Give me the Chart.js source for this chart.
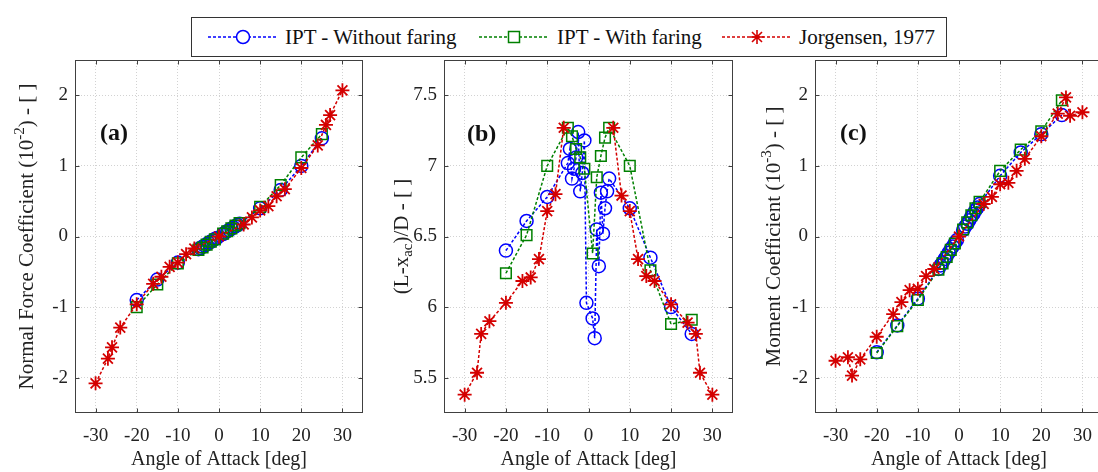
<!DOCTYPE html>
<html lang="en">
<head>
<meta charset="UTF-8">
<title>IPT vs Jorgensen</title>
<style>
  html, body { margin: 0; padding: 0; background: #fff; overflow: hidden; }
  body { width: 1098px; height: 472px; position: relative; font-family: "Liberation Serif", "Times New Roman", serif; }
  canvas { position: absolute; top: 0; }
  #legend { position: absolute; left: 191px; top: 17px; width: 754px; height: 38px; border: 1px solid #333; background: #fff; z-index: 2; }
  #legend svg { position: absolute; top: 0; }
  #legend span { position: absolute; top: 0; line-height: 38px; font-size: 21px; color: #111; white-space: nowrap; }
</style>
</head>
<body>
<div id="legend">
  <svg style="left:15px" width="72" height="38">
    <line x1="1" y1="19" x2="71" y2="19" stroke="#0000ff" stroke-width="1.5" stroke-dasharray="3,2"/>
    <circle cx="36" cy="19" r="6.5" fill="#fff" stroke="#0000ff" stroke-width="1.5"/>
  </svg>
  <span style="left:93px">IPT - Without faring</span>
  <svg style="left:286px" width="72" height="38">
    <line x1="1" y1="19" x2="71" y2="19" stroke="#008000" stroke-width="1.5" stroke-dasharray="3,2"/>
    <rect x="30.5" y="13.5" width="11" height="11" fill="#fff" stroke="#008000" stroke-width="1.5"/>
  </svg>
  <span style="left:365px">IPT - With faring</span>
  <svg style="left:529px" width="72" height="38">
    <line x1="1" y1="19" x2="71" y2="19" stroke="#d40000" stroke-width="1.5" stroke-dasharray="3,2"/>
    <path d="M36 12 V26 M29 19 H43 M31 14 L41 24 M41 14 L31 24" stroke="#d40000" stroke-width="1.6"/>
  </svg>
  <span style="left:607px">Jorgensen, 1977</span>
</div>

<canvas id="chartA" width="372" height="472" style="left:0px"></canvas>
<canvas id="chartB" width="370" height="472" style="left:372px"></canvas>
<canvas id="chartC" width="370" height="472" style="left:742px"></canvas>

<script src="https://cdn.jsdelivr.net/npm/chart.js"></script>
<script>
// tick labels
const xTickValues = [-30, -20, -10, 0, 10, 20, 30];
const normalTicks = [-2, -1, 0, 1, 2];
const ratioTicks = [5.5, 6, 6.5, 7, 7.5];
const momentTicks = [-2, -1, 0, 1, 2];

// IPT - Without faring
const angleNoFaring = [-20, -15, -10, -5, -4.5, -4, -3.5, -3, -2.5, -2, -1.5, -1, -0.5, 1, 1.5, 2, 2.5, 3, 3.5, 4, 4.5, 5, 10, 15, 20, 25];
const normalNoFaring = [-0.90, -0.61, -0.37, -0.18, -0.165, -0.145, -0.13, -0.11, -0.09, -0.075, -0.055, -0.035, -0.02, 0.035, 0.055, 0.075, 0.09, 0.11, 0.13, 0.145, 0.165, 0.18, 0.40, 0.66, 1.00, 1.39];
const ratioNoFaring = [6.40, 6.61, 6.78, 7.02, 7.12, 6.91, 6.98, 7.06, 7.24, 6.82, 6.95, 7.18, 6.03, 5.92, 5.78, 6.55, 6.29, 6.81, 6.52, 6.70, 6.82, 6.91, 6.70, 6.35, 6.00, 5.81];
const momentNoFaring = [-1.64, -1.26, -0.88, -0.46, -0.41, -0.37, -0.32, -0.28, -0.23, -0.18, -0.14, -0.09, -0.05, 0.09, 0.14, 0.18, 0.23, 0.28, 0.32, 0.37, 0.41, 0.46, 0.86, 1.19, 1.45, 1.72];

// IPT - With faring
const angleFaring = [-20, -15, -10, -5, -4, -3, -2, -1, 1, 2, 3, 4, 5, 10, 15, 20, 25];
const normalFaring = [-1.00, -0.68, -0.38, -0.19, -0.155, -0.115, -0.075, -0.04, 0.04, 0.075, 0.115, 0.155, 0.19, 0.42, 0.73, 1.12, 1.45];
const ratioFaring = [6.24, 6.51, 7.00, 7.27, 7.21, 7.12, 7.06, 6.98, 6.38, 6.92, 7.07, 7.20, 7.27, 7.00, 6.26, 5.88, 5.91];
const momentFaring = [-1.65, -1.27, -0.90, -0.47, -0.38, -0.29, -0.19, -0.10, 0.10, 0.20, 0.30, 0.40, 0.49, 0.93, 1.23, 1.49, 1.93];

// Jorgensen, 1977
const angleJorgensen = [-30, -27, -26, -24, -20, -16, -14, -12, -10, -8, -6, 0, 6, 8, 10, 12, 14, 16, 20, 24, 26, 27, 30];
const normalJorgensen = [-2.08, -1.73, -1.57, -1.29, -0.96, -0.67, -0.57, -0.43, -0.37, -0.25, -0.17, 0, 0.17, 0.27, 0.37, 0.43, 0.57, 0.67, 0.97, 1.29, 1.58, 1.72, 2.07];
const ratioJorgensen = [5.38, 5.535, 5.81, 5.90, 6.03, 6.185, 6.21, 6.34, 6.68, 6.80, 7.27, null, 7.27, 6.79, 6.68, 6.34, 6.22, 6.185, 6.02, 5.89, 5.81, 5.535, 5.38];
const momentJorgensen = [-1.76, -1.71, -1.97, -1.74, -1.42, -1.10, -0.93, -0.76, -0.74, -0.56, -0.46, 0, 0.46, 0.56, 0.74, 0.76, 0.93, 1.10, 1.42, 1.74, 1.97, 1.71, 1.76];

const serif = "'Liberation Serif', 'Times New Roman', serif";
Chart.defaults.font.family = serif;

function pts(xs, ys) {
    return xs.map((x, i) => ({ x: x, y: ys[i] }));
}

// box with inward ticks, panel tag and a y title that can carry super/subscripts
const panelDecor = {
    id: 'panelDecor',
    afterDraw(chart, args, opts) {
        const { ctx, chartArea: a, scales } = chart;
        ctx.save();
        ctx.strokeStyle = '#404040';
        ctx.lineWidth = 1;
        const L = Math.round(a.left) + 0.5, R = Math.round(a.right) - 0.5;
        const T = Math.round(a.top) + 0.5, B = Math.round(a.bottom) - 0.5;
        ctx.strokeRect(L, T, R - L, B - T);
        ctx.beginPath();
        scales.x.ticks.forEach(t => {
            const px = Math.round(scales.x.getPixelForValue(t.value)) + 0.5;
            ctx.moveTo(px, B); ctx.lineTo(px, B - 4);
            ctx.moveTo(px, T); ctx.lineTo(px, T + 4);
        });
        scales.y.ticks.forEach(t => {
            const py = Math.round(scales.y.getPixelForValue(t.value)) + 0.5;
            ctx.moveTo(L, py); ctx.lineTo(L + 4, py);
            ctx.moveTo(R, py); ctx.lineTo(R - 4, py);
        });
        ctx.stroke();

        ctx.fillStyle = '#111';
        ctx.font = 'bold 24px ' + serif;
        ctx.textAlign = 'left';
        ctx.textBaseline = 'middle';
        ctx.fillText(opts.tag, opts.tagX, opts.tagY);

        // rotated y title
        ctx.fillStyle = '#222';
        ctx.translate(opts.titleX, (a.top + a.bottom) / 2);
        ctx.rotate(-Math.PI / 2);
        const big = '21px ' + serif, small = '15px ' + serif;
        let total = 0;
        opts.parts.forEach(p => {
            ctx.font = p[1] === 0 ? big : small;
            total += ctx.measureText(p[0]).width;
        });
        let cx = -total / 2;
        opts.parts.forEach(p => {
            ctx.font = p[1] === 0 ? big : small;
            const dy = p[1] < 0 ? -7 : (p[1] > 0 ? 6 : 0);
            ctx.fillText(p[0], cx, dy);
            cx += ctx.measureText(p[0]).width;
        });
        ctx.restore();
    }
};

function makePanel(id, axisWidth, yMin, yMax, yTicks, blueY, greenY, redY, decor) {
    return new Chart(document.getElementById(id), {
        type: 'scatter',
        data: {
            datasets: [
                {
                    label: 'IPT - Without faring',
                    data: pts(angleNoFaring, blueY),
                    order: 3,
                    showLine: true,
                    borderColor: '#0000ff',
                    borderWidth: 1.5,
                    borderDash: [3, 2],
                    pointStyle: 'circle',
                    pointRadius: 6.5,
                    pointBorderWidth: 1.5,
                    pointBorderColor: '#0000ff',
                    pointBackgroundColor: 'rgba(0,0,0,0)'
                },
                {
                    label: 'IPT - With faring',
                    data: pts(angleFaring, greenY),
                    order: 2,
                    showLine: true,
                    borderColor: '#008000',
                    borderWidth: 1.5,
                    borderDash: [3, 2],
                    pointStyle: 'rect',
                    pointRadius: 7.5,
                    pointBorderWidth: 1.5,
                    pointBorderColor: '#008000',
                    pointBackgroundColor: 'rgba(0,0,0,0)'
                },
                {
                    label: 'Jorgensen, 1977',
                    data: pts(angleJorgensen, redY),
                    order: 1,
                    showLine: true,
                    spanGaps: false,
                    borderColor: '#d40000',
                    borderWidth: 1.5,
                    borderDash: [3, 2],
                    pointStyle: 'star',
                    pointRadius: 7,
                    pointBorderWidth: 1.8,
                    pointBorderColor: '#d40000',
                    pointBackgroundColor: '#d40000'
                }
            ]
        },
        options: {
            responsive: false,
            animation: false,
            devicePixelRatio: 1,
            events: [],
            layout: { padding: { left: 0, right: 2, top: 60, bottom: 0 } },
            plugins: {
                legend: { display: false },
                tooltip: { enabled: false },
                panelDecor: decor
            },
            scales: {
                x: {
                    type: 'linear',
                    min: -35,
                    max: 35,
                    afterBuildTicks: s => { s.ticks = xTickValues.map(v => ({ value: v })); },
                    afterFit: s => { s.height = 59; },
                    grid: { color: '#d2d2d2', lineWidth: 1, drawTicks: false },
                    border: { display: false, dash: [1, 2] },
                    ticks: {
                        color: '#222',
                        font: { family: serif, size: 19 },
                        padding: 12,
                        maxRotation: 0,
                        autoSkip: false,
                        callback: v => String(v)
                    },
                    title: {
                        display: true,
                        text: 'Angle of Attack [deg]',
                        color: '#222',
                        font: { family: serif, size: 20 },
                        padding: { top: 0, bottom: 0 }
                    }
                },
                y: {
                    type: 'linear',
                    min: yMin,
                    max: yMax,
                    afterBuildTicks: s => { s.ticks = yTicks.map(v => ({ value: v })); },
                    afterFit: s => { s.width = axisWidth; },
                    grid: { color: '#d2d2d2', lineWidth: 1, drawTicks: false },
                    border: { display: false, dash: [1, 2] },
                    ticks: {
                        color: '#222',
                        font: { family: serif, size: 19 },
                        padding: 7,
                        autoSkip: false,
                        callback: v => String(v)
                    }
                }
            }
        },
        plugins: [panelDecor]
    });
}

makePanel('chartA', 75, -2.5, 2.5, normalTicks, normalNoFaring, normalFaring, normalJorgensen, {
    tag: '(a)', tagX: 100, tagY: 134, titleX: 27,
    parts: [['Normal Force Coefficient (10', 0], ['-2', -1], [') - [ ]', 0]]
});

makePanel('chartB', 72, 5.25, 7.75, ratioTicks, ratioNoFaring, ratioFaring, ratioJorgensen, {
    tag: '(b)', tagX: 95, tagY: 135, titleX: 30,
    parts: [['(L-x', 0], ['ac', 1], [')/D - [ ]', 0]]
});

makePanel('chartC', 73, -2.5, 2.5, momentTicks, momentNoFaring, momentFaring, momentJorgensen, {
    tag: '(c)', tagX: 98, tagY: 134, titleX: 32,
    parts: [['Moment Coefficient (10', 0], ['-3', -1], [') - [ ]', 0]]
});
</script>
</body>
</html>
